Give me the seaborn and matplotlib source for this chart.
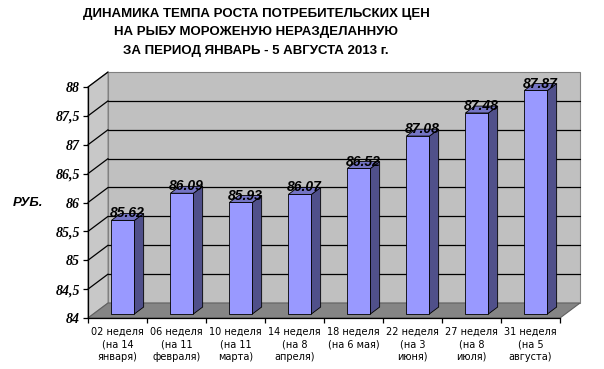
import matplotlib

matplotlib.use("Agg")
import matplotlib.pyplot as plt
import numpy as np
import seaborn as sns
from matplotlib.patches import Polygon
from matplotlib.ticker import FuncFormatter

# Data
weeks = [
    "02 неделя\n(на 14\nянваря)",
    "06 неделя\n(на 11\nфевраля)",
    "10 неделя\n(на 11\nмарта)",
    "14 неделя\n(на 8\nапреля)",
    "18 неделя\n(на 6 мая)",
    "22 неделя\n(на 3\nиюня)",
    "27 неделя\n(на 8\nиюля)",
    "31 неделя\n(на 5\nавгуста)",
]
prices = [85.62, 86.09, 85.93, 86.07, 86.52, 87.08, 87.48, 87.87]
y_ticks = [84, 84.5, 85, 85.5, 86, 86.5, 87, 87.5, 88]

TITLE = "ДИНАМИКА ТЕМПА РОСТА ПОТРЕБИТЕЛЬСКИХ ЦЕН\nНА РЫБУ МОРОЖЕНУЮ НЕРАЗДЕЛАННУЮ\nЗА ПЕРИОД ЯНВАРЬ - 5 АВГУСТА 2013 г."

# Constants
Y_MIN, Y_MAX = 84, 88
WALL_DX = 0.34  # depth of the 3d box, in categories
WALL_DY = 0.26  # depth of the 3d box, in rubles
BAR_FRONT, BAR_BACK = 0.27, 0.73  # bar depth as fraction of box depth
BAR_WIDTH = 0.39
FACE = "#9999ff"
SIDE = "#50508a"
TOP = "#7474c4"
WALL = "#c0c0c0"
SIDE_WALL = "#c8c8c8"
FLOOR = "#858585"

sns.set_style("ticks")
plt.rcParams["font.family"] = ["DejaVu Sans"]
plt.rcParams["text.color"] = "black"
plt.rcParams["xtick.color"] = "black"
plt.rcParams["ytick.color"] = "black"
plt.rcParams["axes.edgecolor"] = "black"

fig = plt.figure(figsize=(6.04, 3.69), dpi=100)
ax = fig.add_axes([88 / 604, 51 / 369, 472 / 604, 231 / 369])
ax.set_facecolor("none")

sns.barplot(
    x=weeks,
    y=prices,
    color=FACE,
    saturation=1,
    width=BAR_WIDTH,
    edgecolor="black",
    linewidth=0.6,
    ax=ax,
    zorder=5,
)
n = len(weeks)
ax.set_xlim(-0.5, n - 0.5)
ax.set_ylim(Y_MIN, Y_MAX)

# 3d box: back wall, side wall, floor
x0, x1 = -0.5, n - 0.5
ax.add_patch(Polygon([(x0 + WALL_DX, Y_MIN + WALL_DY), (x1 + WALL_DX, Y_MIN + WALL_DY),
                      (x1 + WALL_DX, Y_MAX + WALL_DY), (x0 + WALL_DX, Y_MAX + WALL_DY)],
                     closed=True, facecolor=WALL, edgecolor="#808080", lw=0.8, clip_on=False, zorder=0))
ax.add_patch(Polygon([(x0, Y_MIN), (x0 + WALL_DX, Y_MIN + WALL_DY),
                      (x0 + WALL_DX, Y_MAX + WALL_DY), (x0, Y_MAX)],
                     closed=True, facecolor=SIDE_WALL, edgecolor="#808080", lw=0.8, clip_on=False, zorder=0))
ax.add_patch(Polygon([(x0, Y_MIN), (x1, Y_MIN), (x1 + WALL_DX, Y_MIN + WALL_DY), (x0 + WALL_DX, Y_MIN + WALL_DY)],
                     closed=True, facecolor=FLOOR, edgecolor="#606060", lw=0.8, clip_on=False, zorder=1))
for t in y_ticks[1:-1]:
    ax.plot([x0 + WALL_DX, x1 + WALL_DX], [t + WALL_DY, t + WALL_DY], color="black", lw=0.9, clip_on=False, zorder=0.5)
for t in y_ticks[1:]:
    ax.plot([x0, x0 + WALL_DX], [t, t + WALL_DY], color="black", lw=0.9, clip_on=False, zorder=0.5)

# turn the flat seaborn bars into 3d columns
bdx = (BAR_BACK - BAR_FRONT) * WALL_DX
bdy = (BAR_BACK - BAR_FRONT) * WALL_DY
for patch, value in zip(ax.patches[:n], prices):
    patch.set_x(patch.get_x() + BAR_FRONT * WALL_DX)
    patch.set_y(Y_MIN + BAR_FRONT * WALL_DY)
    patch.set_height(value - Y_MIN)
    left = patch.get_x()
    right = left + patch.get_width()
    bottom = patch.get_y()
    top = bottom + patch.get_height()
    ax.add_patch(Polygon([(right, bottom), (right + bdx, bottom + bdy), (right + bdx, top + bdy), (right, top)],
                         closed=True, facecolor=SIDE, edgecolor="black", lw=0.6, clip_on=False, zorder=5))
    ax.add_patch(Polygon([(left, top), (right, top), (right + bdx, top + bdy), (left + bdx, top + bdy)],
                         closed=True, facecolor=TOP, edgecolor="black", lw=0.6, clip_on=False, zorder=5))
    ax.text((left + right) / 2 + bdx / 2, top + bdy, f"{value:.2f}", ha="center", va="center",
            fontsize=10, fontstyle="italic", fontweight="bold", family=["Liberation Sans"],
            zorder=10, clip_on=False)

# axes
sns.despine(ax=ax, top=True, right=True)
ax.spines["left"].set_linewidth(0.9)
ax.spines["bottom"].set_linewidth(0.9)
ax.spines["bottom"].set_zorder(6)
ax.set_yticks(y_ticks)
ax.yaxis.set_major_formatter(FuncFormatter(lambda v, _: f"{v:g}".replace(".", ",")))
for lbl in ax.get_yticklabels():
    lbl.set_fontfamily(["Liberation Serif"])
    lbl.set_fontstyle("italic")
    lbl.set_fontweight("bold")
    lbl.set_fontsize(10)
ax.tick_params(axis="y", length=3.6, width=0.9, pad=2)

ax.set_xticks(np.arange(n + 1) - 0.5)
ax.set_xticklabels([])
ax.set_xticks(np.arange(n), minor=True)
ax.set_xticklabels(weeks, minor=True, fontsize=7, linespacing=1.3, ha="center")
ax.tick_params(axis="x", which="major", length=3.6, width=0.9)
ax.tick_params(axis="x", which="minor", length=0, pad=6.5)
ax.set_xlabel("")
ax.set_ylabel("")

fig.text(28 / 604, 1 - 203 / 369, "РУБ.", ha="center", va="center", fontsize=9.5,
         fontstyle="italic", fontweight="bold", family=["Liberation Sans"])
fig.text(256 / 604, 1 - 32.5 / 369, TITLE, ha="center", va="center", fontsize=9.5,
         fontweight="bold", family=["Liberation Sans"], linespacing=1.75)

fig.savefig("out.png", dpi=100)
